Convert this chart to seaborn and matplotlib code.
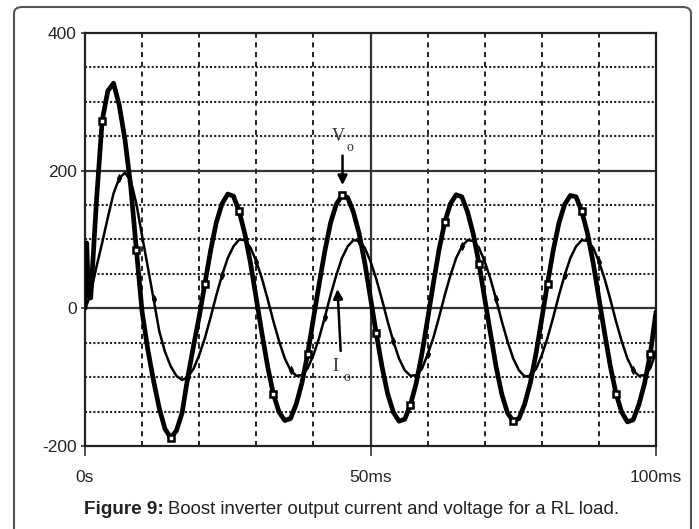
import numpy as np
import pandas as pd
import matplotlib
matplotlib.use("Agg")
import matplotlib.pyplot as plt
import seaborn as sns
from matplotlib.patches import FancyBboxPatch

# ============================================================================
# DATOS
# ============================================================================
t_ms = [0, 0.3, 0.6] + list(range(1, 101))

# tensión de salida Vo (V)
v_out = (
    [0, 95, 20, 15, 155, 272, 316, 327, 295, 245, 178, 85, -5, -60, -105, -145, -175, -188, -178, -152, -100, -55, -12]
    + [36, 84, 125, 152, 166, 163, 141, 108, 65, 14, -37, -85, -125, -151, -163, -160, -139, -108, -66]
    + [-15, 35, 83, 124, 151, 164, 161, 140, 109, 66, 15, -36, -84, -124, -151, -164, -161, -140, -109, -66]
    + [-16, 36, 85, 125, 152, 165, 162, 140, 108, 65, 14, -36, -85, -125, -152, -164, -160, -139, -108, -65]
    + [-15, 36, 84, 124, 151, 164, 162, 141, 109, 66, 15, -36, -84, -124, -151, -165, -162, -140, -109, -66]
    + [-5]
)

# corriente de salida Io (A)
i_out = (
    [0, 5, 12, 22, 60, 95, 132, 167, 189, 197, 186, 152, 105, 60, 14, -33, -63, -84, -98, -104, -100, -88, -68]
    + [-43, -13, 19, 48, 73, 90, 100, 99, 88, 68, 43, 13, -19, -48, -73, -90, -98, -97, -87]
    + [-68, -43, -13, 19, 48, 73, 90, 99, 98, 88, 68, 43, 13, -19, -48, -73, -90, -98, -97, -88]
    + [-67, -43, -13, 19, 48, 73, 90, 99, 98, 88, 68, 43, 13, -19, -48, -73, -90, -99, -98, -88]
    + [-68, -43, -13, 19, 48, 73, 90, 99, 98, 88, 68, 43, 13, -19, -48, -73, -90, -98, -97, -87]
    + [-63]
)

y_ticks = [-200, 0, 200, 400]
x_ticks = [0, 50, 100]
x_labels = ["0s", "50ms", "100ms"]
dotted_levels = [-150, -100, -50, 50, 100, 150, 250, 300, 350]
solid_levels = [0, 200]
dashed_times = [10, 20, 30, 40, 60, 70, 80, 90]

df = pd.DataFrame({"t_ms": t_ms, "v_out": v_out, "i_out": i_out})

# ============================================================================
# FIGURA
# ============================================================================
sns.set_theme(style="white")
plt.rcParams["font.family"] = ["Liberation Sans", "DejaVu Sans"]
plt.rcParams["figure.facecolor"] = "white"
plt.rcParams["axes.unicode_minus"] = False

fig = plt.figure(figsize=(6.99, 5.29), dpi=100)
ax = fig.add_axes([85 / 699, 1 - 446 / 529, (656 - 85) / 699, (446 - 33) / 529])

# rejilla estilo osciloscopio
for lvl in dotted_levels:
    ax.axhline(lvl, color="#222222", lw=1.5, linestyle=(0, (1, 1)), zorder=1)
for tt in dashed_times:
    ax.axvline(tt, color="#222222", lw=1.4, linestyle=(0, (2.6, 2.4)), zorder=1)
for lvl in solid_levels:
    ax.axhline(lvl, color="#333333", lw=1.6, zorder=1)
ax.axvline(50, color="#333333", lw=1.6, zorder=1)

# curvas
sns.lineplot(data=df, x="t_ms", y="i_out", ax=ax, color="black", lw=1.8,
             marker="d", markersize=4, markevery=(8, 6), mfc="black", mec="black", zorder=3)
sns.lineplot(data=df, x="t_ms", y="v_out", ax=ax, color="black", lw=3.4,
             marker="s", markersize=5, markevery=(5, 6), mfc="white", mec="black", mew=1.8, zorder=4)

ax.set_xlim(0, 100)
ax.set_ylim(-200, 400)
ax.set_xticks(x_ticks)
ax.set_xticklabels(x_labels)
ax.set_yticks(y_ticks)
ax.set_xlabel("")
ax.set_ylabel("")
ax.tick_params(axis="x", direction="out", length=7, width=1.2, pad=10, labelsize=12.5, color="#333333")
ax.tick_params(axis="y", direction="out", length=3, width=1.2, pad=3, labelsize=12.5, color="#333333")
ax.tick_params(left=True, bottom=True)
for sp in ax.spines.values():
    sp.set_color("#222222")
    sp.set_linewidth(1.6)

# etiquetas Vo / Io
serif = ["Liberation Serif", "DejaVu Serif"]
ax.text(44.4, 250, "V", family=serif, fontsize=13, color="#333333", ha="center", va="center")
ax.text(46.4, 234, "o", family=serif, fontsize=10, color="#333333", ha="center", va="center")
ax.annotate("", xy=(45.1, 175), xytext=(45.1, 226),
            arrowprops=dict(arrowstyle="-|>", lw=1.8, color="black", mutation_scale=14))
ax.text(43.9, -85, "I", family=serif, fontsize=13, color="#333333", ha="center", va="center")
ax.text(45.8, -100, "o", family=serif, fontsize=10, color="#333333", ha="center", va="center")
ax.annotate("", xy=(44.2, 32), xytext=(44.8, -66),
            arrowprops=dict(arrowstyle="-|>", lw=1.8, color="black", mutation_scale=14))

# marco redondeado y pie de figura
fig.patches.append(FancyBboxPatch((14 / 699, -0.05), (691 - 14) / 699, 1 - 7 / 529 + 0.05,
                                  boxstyle="round,pad=0,rounding_size=0.012",
                                  transform=fig.transFigure, fill=False,
                                  ec="#555555", lw=1.5))
cap_y = 1 - 509 / 529
bold = fig.text(84 / 699, cap_y, "Figure 9:", fontsize=13.6, fontweight="bold",
                color="#222222", ha="left", va="center")
fig.canvas.draw()
bb = bold.get_window_extent(renderer=fig.canvas.get_renderer())
fig.text((bb.x1 + 4) / 699, cap_y, "Boost inverter output current and voltage for a RL load.",
         fontsize=13.4, color="#222222", ha="left", va="center")

fig.savefig("out.png", dpi=100)
plt.close(fig)
